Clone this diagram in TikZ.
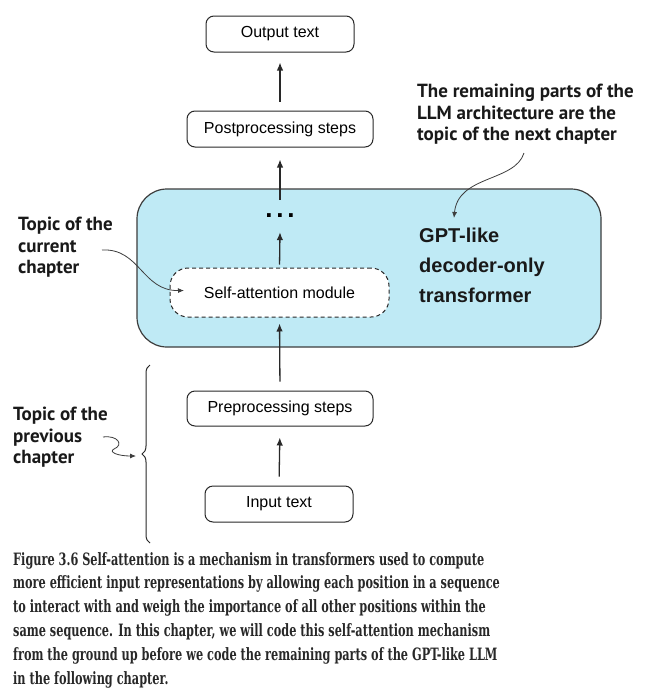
\documentclass[tikz,border=0pt]{standalone}
\usepackage{fontspec}
\setsansfont{Liberation Sans}
\newfontfamily\lblfont{PT Sans}
\newfontfamily\capfont{DejaVu Serif}[FakeStretch=0.665]
\usetikzlibrary{arrows.meta,decorations.pathreplacing}
\definecolor{gptblue}{RGB}{191,234,245}
\definecolor{edge}{RGB}{40,40,40}
\definecolor{captxt}{RGB}{40,40,40}
\tikzset{
  stepbox/.style={draw=edge,line width=1pt,rounded corners=8pt,fill=white,inner sep=0pt,
    font=\sffamily\fontsize{16}{19}\selectfont},
  flowarrow/.style={draw=edge,line width=1.3pt,-{Latex[length=8pt,width=6.5pt]}},
  notearrow/.style={draw=edge!90,line width=0.8pt,-{Latex[length=6pt,width=5pt]}},
  notetext/.style={inner sep=0pt,anchor=north west,align=left,text=black!90,
    font=\lblfont\bfseries\fontsize{19}{21.5}\selectfont},
}
\begin{document}
\begin{tikzpicture}[x=1pt,y=-1pt]
\useasboundingbox[fill=white] (0,0) rectangle (659,697);

% big transformer block
\node[draw=edge!90,line width=1.2pt,fill=gptblue,rounded corners=30pt,
      minimum width=464pt,minimum height=158pt,inner sep=0pt] (gpt) at (369,268) {};
\node[notetext,font=\sffamily\bfseries\fontsize{20}{30}\selectfont,text=black!90]
      (gptlbl) at (419,228) {GPT-like\\decoder-only\\transformer};

% boxes
\node[stepbox,minimum width=148pt,minimum height=36pt] (out) at (280,34) {Output text};
\node[stepbox,minimum width=186pt,minimum height=36pt] (post) at (280,129) {Postprocessing steps};
\node[draw=edge,line width=1pt,dashed,dash pattern=on 4pt off 3pt,rounded corners=18pt,fill=white,
      inner sep=0pt,minimum width=219pt,minimum height=49pt,
      font=\sffamily\fontsize{16}{19}\selectfont] (sa) at (279.5,292.5) {Self-attention module};
\node[inner sep=0pt,minimum height=32pt,font=\sffamily\bfseries\fontsize{26}{26}\selectfont] (dots) at (280,216) {.\hspace{3.8pt}.\hspace{3.8pt}.};
\node[stepbox,minimum width=186pt,minimum height=35pt] (pre) at (280,408.5) {Preprocessing steps};
\node[stepbox,minimum width=148pt,minimum height=36pt] (inp) at (279,504) {Input text};

% flow arrows
\draw[flowarrow,shorten <=9pt,shorten >=11pt] (inp.north) -- (pre.south);
\draw[flowarrow,shorten <=9pt,shorten >=6pt] (pre.north) -- (sa.south);
\draw[flowarrow,shorten <=3pt] (sa.north) -- (dots.south);
\draw[flowarrow,shorten >=12pt] (dots.north) -- (post.south);
\draw[flowarrow,shorten <=9pt,shorten >=10pt] (post.north) -- (out.south);

% annotations
\node[notetext] (cur) at (18,217) {Topic of the\\current\\chapter};
\node[notetext] (prev) at (13,407) {Topic of the\\previous\\chapter};
\node[notetext] (next) at (417,84) {The remaining parts of the\\LLM architecture are the\\topic of the next chapter};

\coordinate (curs) at (102,250);
\coordinate (cure) at (184,290.5);
\draw[notearrow] (curs) .. controls (140,248) and (142,291) .. (cure);

\coordinate (nexts) at (524,153);
\coordinate (nexte) at (454,218);
\draw[notearrow] (nexts) .. controls (515,182) and (458,175) .. (nexte);

\coordinate (brb) at (150,543);
\coordinate (brt) at (150,365);
\draw[edge,line width=1pt,decorate,decoration={brace,amplitude=8pt}] (brb) -- (brt);

\coordinate (prevs) at (103,437);
\coordinate (preve) at (136,456);
\draw[notearrow] (prevs) .. controls (118,435) and (124,445) .. (114,449)
   .. controls (108,452) and (118,456) .. (preve);

% caption
\node[inner sep=0pt,anchor=north west,align=left,text=captxt,
      font=\capfont\bfseries\fontsize{17}{23.8}\selectfont] (cap) at (13,552)
{Figure 3.6 Self-attention is a mechanism in transformers used to compute\\
more efficient input representations by allowing each position in a sequence\\
to interact with and weigh the importance of all other positions within the\\
same sequence. In this chapter, we will code this self-attention mechanism\\
from the ground up before we code the remaining parts of the GPT-like LLM\\
in the following chapter.};
\end{tikzpicture}
\end{document}
